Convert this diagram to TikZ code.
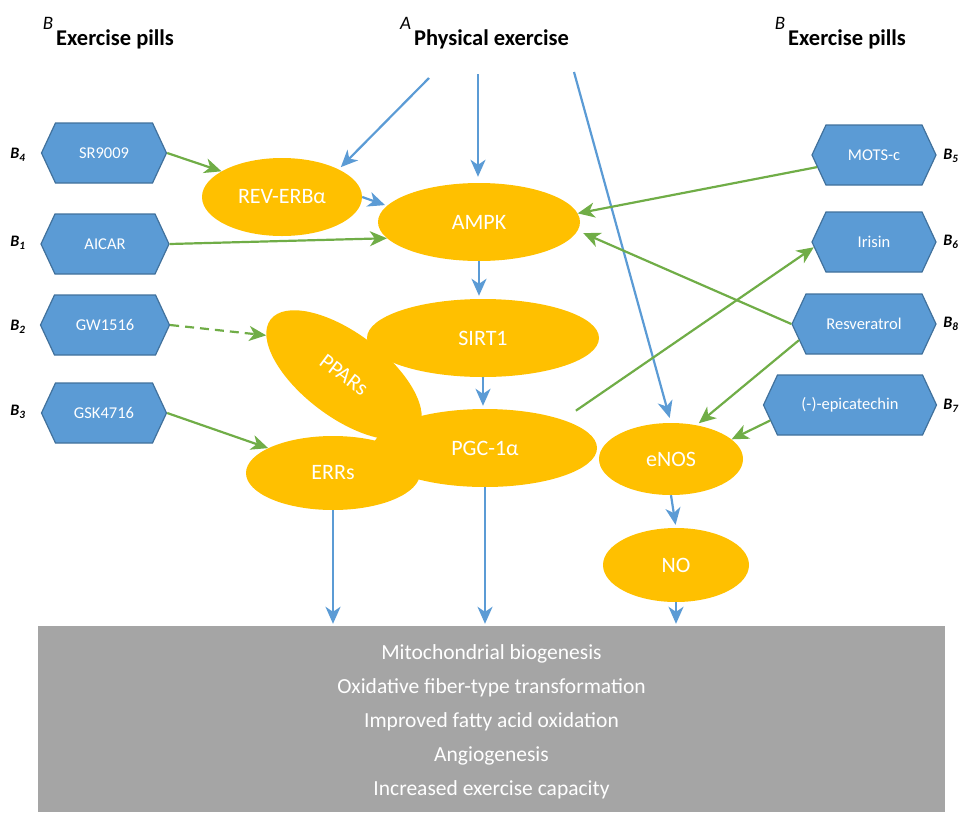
\documentclass[tikz,border=0pt]{standalone}
\usepackage{fontspec}
\setmainfont{Carlito}
\definecolor{exblue}{RGB}{91,155,213}
\definecolor{exedge}{RGB}{65,113,156}
\definecolor{exorange}{RGB}{255,192,0}
\definecolor{exgreen}{RGB}{112,173,71}
\definecolor{exgray}{RGB}{165,165,165}
\usetikzlibrary{arrows.meta,positioning,shapes.geometric,shapes.symbols}

\tikzset{
  pill/.style={shape=signal, signal to=east and west, signal pointer angle=130,
    fill=exblue, draw=exedge, line width=1.2pt, text=white, inner sep=0pt,
    minimum height=60pt, font=\fontsize{16.5}{19}\selectfont},
  factor/.style={ellipse, fill=exorange, text=white, inner sep=0pt,
    font=\fontsize{22}{26}\selectfont},
  blabel/.style={font=\fontsize{16}{19}\selectfont\bfseries\itshape},
  head/.style={anchor=base west, inner sep=0pt, font=\fontsize{22.5}{26}\selectfont\bfseries},
  blu/.style={exblue, line width=2.2pt, -{Stealth[length=17pt,width=15pt,inset=5pt]}},
  grn/.style={exgreen, line width=2.2pt, -{Stealth[length=17pt,width=15pt,inset=5pt]}},
}
\newcommand{\supmark}[1]{\llap{\raisebox{16pt}{\mdseries\itshape\fontsize{19}{21}\selectfont #1}\kern3pt}}

\begin{document}
\begin{tikzpicture}[x=1pt, y=-1pt]
  \useasboundingbox (0,0) rectangle (964,812);

  % Headings
  \node[head] (titlel) at (56,45) {\supmark{B}Exercise pills};
  \node[head] (titlea) at (414,45) {\supmark{A}Physical exercise};
  \node[head] (titler) at (788,45) {\supmark{B}Exercise pills};

  % Exercise pills (left)
  \node[pill, minimum width=125pt] (sr9009) at (104,153) {SR9009};
  \node[pill, minimum width=128pt] (aicar) at (105,244) {AICAR};
  \node[pill, minimum width=129pt] (gw1516) at (105,325) {GW1516};
  \node[pill, minimum width=125pt] (gsk4716) at (104,413) {GSK4716};
  \node[blabel] (b4) at (18,155) {B\textsubscript{4}};
  \node[blabel] (b1) at (18,243) {B\textsubscript{1}};
  \node[blabel] (b2) at (18,327) {B\textsubscript{2}};
  \node[blabel] (b3) at (18,412) {B\textsubscript{3}};

  % Exercise pills (right)
  \node[pill, minimum width=124pt] (mots) at (874,155) {MOTS-c};
  \node[pill, minimum width=124pt] (irisin) at (874,242) {Irisin};
  \node[pill, minimum width=144pt] (resv) at (864,324) {Resveratrol};
  \node[pill, minimum width=173pt] (epi) at (850,405) {(-)-epicatechin};
  \node[blabel] (b5) at (951,156) {B\textsubscript{5}};
  \node[blabel] (b6) at (951,242) {B\textsubscript{6}};
  \node[blabel] (b8) at (951,324) {B\textsubscript{8}};
  \node[blabel] (b7) at (951,406) {B\textsubscript{7}};

  % Pathway
  \node[factor, minimum width=160pt, minimum height=78pt] (reverb) at (282,197) {REV-ERBα};
  \node[factor, minimum width=202pt, minimum height=78pt] (ampk) at (479,222) {AMPK};
  \node[factor, minimum width=232pt, minimum height=78pt] (sirt1) at (483,338) {SIRT1};
  \node[factor, minimum width=174pt, minimum height=74pt] (errs) at (333,473) {ERRs};
  \node[factor, minimum width=184pt, minimum height=84pt, rotate=-37] (ppars) at (344,375) {PPARs};
  \node[factor, minimum width=224pt, minimum height=78pt] (pgc) at (485,448) {PGC-1α};
  \node[factor, minimum width=144pt, minimum height=72pt] (enos) at (671,459) {eNOS};
  \node[factor, minimum width=146pt, minimum height=74pt] (no) at (676,565) {NO};

  % Outcomes
  \node[fill=exgray, minimum width=907pt, minimum height=186pt] (box) at (491.5,719) {};
  \node[text=white, align=center, font=\fontsize{21.5}{34}\selectfont] (outcomes) at (491.5,722)
    {Mitochondrial biogenesis\\ Oxidative fiber-type transformation\\ Improved fatty acid oxidation\\
     Angiogenesis\\ Increased exercise capacity};

  % Physical exercise
  \coordinate (pe1) at (429,78);
  \coordinate (pe2) at (478,74);
  \coordinate (pe3) at (574,72);
  \draw[blu, shorten >=3pt] (pe1) -- (reverb.north east);
  \draw[blu, shorten >=6pt] (pe2) -- (pe2 |- ampk.north);
  \draw[blu, shorten >=5pt] (pe3) -- (enos.north);
  \draw[blu, shorten >=2pt] (reverb.east) -- (ampk.170);
  \draw[blu, shorten >=3pt] (ampk.south) -- (ampk.south |- sirt1.north);
  \draw[blu, shorten >=3pt] (sirt1.south) -- (sirt1.south |- pgc.north);
  \draw[blu, shorten >=2pt] (errs.south) -- (errs.south |- box.north);
  \draw[blu, shorten >=2pt] (pgc.south) -- (pgc.south |- box.north);
  \draw[blu, shorten >=3pt] (enos.south) -- (no.north);
  \draw[blu, shorten >=2pt] (no.south) -- (no.south |- box.north);

  % Exercise pills
  \draw[grn] (sr9009.east) -- (reverb.157);
  \draw[grn] (aicar.east) -- (ampk.190);
  \draw[grn, dash pattern=on 9pt off 6pt] (gw1516.east) -- (ppars.190);
  \draw[grn] (gsk4716.east) -- (errs.159);
  \draw[grn] (mots.192) -- (ampk.5);
  \draw[grn, shorten >=6pt] (resv.west) -- (ampk.-5);
  \draw[grn, shorten <=16pt] (pgc.20) -- (irisin.185);
  \draw[grn, shorten >=3pt] (resv.194) -- (enos.53);
  \draw[grn] (epi.191) -- (enos.18);
\end{tikzpicture}
\end{document}
